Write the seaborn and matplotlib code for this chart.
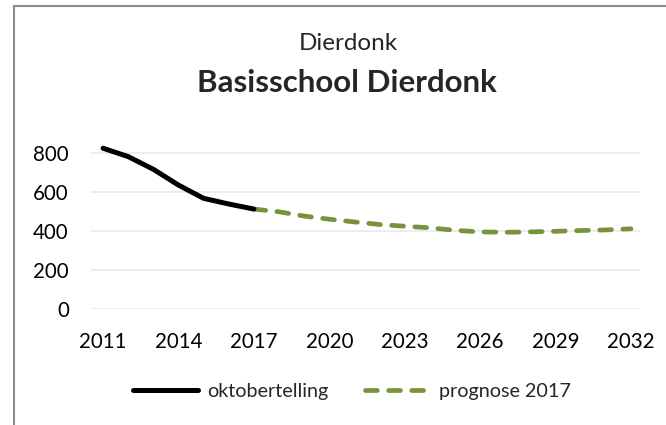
import matplotlib
matplotlib.use("Agg")
import matplotlib.pyplot as plt
from matplotlib.lines import Line2D
import seaborn as sns
import pandas as pd

years_actual = [2011, 2012, 2013, 2014, 2015, 2016, 2017]
oktobertelling = [826, 783, 718, 637, 569, 540, 514]

years_prog = list(range(2017, 2033))
prognose_2017 = [514, 500, 478, 462, 448, 435, 426, 418, 405, 397, 395, 397, 400, 404, 407, 413]

x_ticks = [2011, 2014, 2017, 2020, 2023, 2026, 2029, 2032]
y_ticks = [0, 200, 400, 600, 800]

subtitle = "Dierdonk"
title = "Basisschool Dierdonk"
label_a = "oktobertelling"
label_b = "prognose 2017"

sns.set_theme(style="white")
plt.rcParams["font.family"] = ["Lato", "DejaVu Sans"]

W, H = 666, 425
fig = plt.figure(figsize=(W / 100, H / 100), dpi=100)
ax = fig.add_axes([91 / W, (H - 309.3) / H, (640 - 91) / W, 850 * 0.195 / H])

df_a = pd.DataFrame({"jaar": years_actual, "leerlingen": oktobertelling})
df_b = pd.DataFrame({"jaar": years_prog, "leerlingen": prognose_2017})

green = "#77933C"
sns.lineplot(data=df_b, x="jaar", y="leerlingen", ax=ax, color=green, lw=3.4,
             dashes=False, solid_capstyle="round")
ax.lines[-1].set_dashes([2.5, 2.4])
ax.lines[-1].set_dash_capstyle("round")
sns.lineplot(data=df_a, x="jaar", y="leerlingen", ax=ax, color="black", lw=3.6,
             solid_capstyle="round", solid_joinstyle="round")

ax.set_xlim(2010.52, 2032.36)
ax.set_ylim(0, 850)
ax.set_xticks(x_ticks)
ax.set_yticks(y_ticks)
ax.set_xlabel("")
ax.set_ylabel("")
ax.grid(axis="y", color="#e9e9e9", lw=1.2)
ax.grid(axis="x", visible=False)
for s in ax.spines.values():
    s.set_visible(False)
ax.tick_params(axis="both", length=0, labelsize=14.8, colors="black")
ax.tick_params(axis="y", pad=16)
ax.tick_params(axis="x", pad=16)

fig.text(348 / W, 1 - 43 / H, subtitle, ha="center", va="center", fontsize=17.5)
fig.text(347 / W, 1 - 83 / H, title, ha="center", va="center", fontsize=22.5,
         fontweight="bold")

handles = [
    Line2D([0], [0], color="black", lw=3.6, solid_capstyle="round"),
    Line2D([0], [0], color=green, lw=3.4, dashes=[2.5, 2.4], dash_capstyle="round"),
]
fig.legend(handles, [label_a, label_b], loc="center", bbox_to_anchor=(352 / W, 1 - 391 / H),
           ncol=2, frameon=False, fontsize=14.2, handlelength=3.3, columnspacing=1.9,
           handletextpad=0.45)

border = "#8c8c8c"
fig.add_artist(Line2D([14.5 / W, 14.5 / W], [0, 1 - 5.5 / H], color=border, lw=1.5,
                      transform=fig.transFigure))
fig.add_artist(Line2D([14.5 / W, 1], [1 - 5.5 / H, 1 - 5.5 / H], color=border, lw=1.5,
                      transform=fig.transFigure))

fig.savefig("out.png", dpi=100)
